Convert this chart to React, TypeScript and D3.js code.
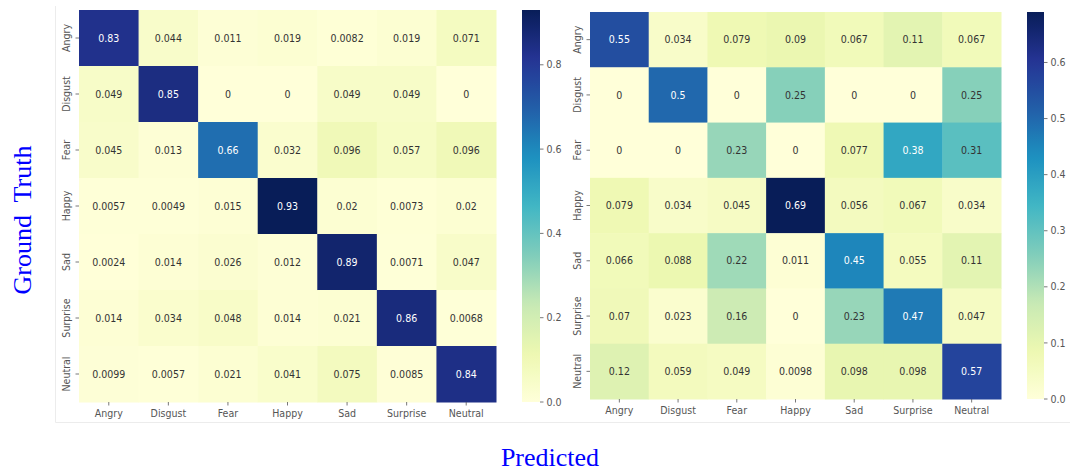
import React from "react";
import * as d3 from "d3";

const labels = ["Angry", "Disgust", "Fear", "Happy", "Sad", "Surprise", "Neutral"];

const leftMatrix: number[][] = [
  [0.83, 0.044, 0.011, 0.019, 0.0082, 0.019, 0.071],
  [0.049, 0.85, 0, 0, 0.049, 0.049, 0],
  [0.045, 0.013, 0.66, 0.032, 0.096, 0.057, 0.096],
  [0.0057, 0.0049, 0.015, 0.93, 0.02, 0.0073, 0.02],
  [0.0024, 0.014, 0.026, 0.012, 0.89, 0.0071, 0.047],
  [0.014, 0.034, 0.048, 0.014, 0.021, 0.86, 0.0068],
  [0.0099, 0.0057, 0.021, 0.041, 0.075, 0.0085, 0.84],
];

const rightMatrix: number[][] = [
  [0.55, 0.034, 0.079, 0.09, 0.067, 0.11, 0.067],
  [0, 0.5, 0, 0.25, 0, 0, 0.25],
  [0, 0, 0.23, 0, 0.077, 0.38, 0.31],
  [0.079, 0.034, 0.045, 0.69, 0.056, 0.067, 0.034],
  [0.066, 0.088, 0.22, 0.011, 0.45, 0.055, 0.11],
  [0.07, 0.023, 0.16, 0, 0.23, 0.47, 0.047],
  [0.12, 0.059, 0.049, 0.0098, 0.098, 0.098, 0.57],
];

const leftTicks = [0.0, 0.2, 0.4, 0.6, 0.8];
const rightTicks = [0.0, 0.1, 0.2, 0.3, 0.4, 0.5, 0.6];

const ylgnbu = ["#ffffd9", "#edf8b1", "#c7e9b4", "#7fcdbb", "#41b6c4", "#1d91c0", "#225ea8", "#253494", "#081d58"];

function makeColor(vmin: number, vmax: number) {
  const base = d3
    .scaleLinear<string>()
    .domain(d3.range(ylgnbu.length).map((i) => i / (ylgnbu.length - 1)))
    .range(ylgnbu)
    .interpolate(d3.interpolateRgb)
    .clamp(true);
  return (v: number) => base((v - vmin) / (vmax - vmin));
}

function lum(c: string) {
  const rgb = d3.rgb(c);
  const f = (x: number) => {
    const s = x / 255;
    return s <= 0.03928 ? s / 12.92 : Math.pow((s + 0.055) / 1.055, 2.4);
  };
  return 0.2126 * f(rgb.r) + 0.7152 * f(rgb.g) + 0.0722 * f(rgb.b);
}

function fmt(v: number) {
  if (v === 0) return "0";
  return String(+v.toPrecision(2));
}

const FONT = "DejaVu Sans, sans-serif";
const TICKCOL = "#555";
const FS = 9.5;

type PanelProps = {
  id: string;
  data: number[][];
  ticks: number[];
  x0: number;
  x1: number;
  y0: number;
  y1: number;
  cbX0: number;
  cbX1: number;
};

function Panel({ id, data, ticks, x0, x1, y0, y1, cbX0, cbX1 }: PanelProps) {
  const flat = data.flat();
  const vmin = d3.min(flat)!;
  const vmax = d3.max(flat)!;
  const color = makeColor(vmin, vmax);
  const xs = d3.scaleBand().domain(labels).range([x0, x1]);
  const ys = d3.scaleBand().domain(labels).range([y0, y1]);
  const cb = d3.scaleLinear().domain([vmin, vmax]).range([y1, y0]);
  const stops = d3.range(0, 1.0001, 0.02);
  return (
    <g>
      <defs>
        <linearGradient id={id} x1="0" y1="1" x2="0" y2="0">
          {stops.map((t) => (
            <stop key={t} offset={t} stopColor={color(vmin + t * (vmax - vmin))} />
          ))}
        </linearGradient>
      </defs>
      {data.map((row, i) =>
        row.map((v, j) => {
          const c = color(v);
          const tc = lum(c) > 0.408 ? "#333333" : "#ffffff";
          const cx = xs(labels[j])! + xs.bandwidth() / 2;
          const cy = ys(labels[i])! + ys.bandwidth() / 2;
          return (
            <g key={`${i}-${j}`}>
              <rect
                x={xs(labels[j])!}
                y={ys(labels[i])!}
                width={xs.bandwidth() + 0.5}
                height={ys.bandwidth() + 0.5}
                fill={c}
              />
              <text
                transform={`translate(${cx},${cy}) scale(1,1.1)`}
                textAnchor="middle"
                dominantBaseline="central"
                fontFamily={FONT}
                fontSize={FS}
                fill={tc}
              >
                {fmt(v)}
              </text>
            </g>
          );
        })
      )}
      {labels.map((l) => {
        const cx = xs(l)! + xs.bandwidth() / 2;
        return (
          <g key={"x" + l}>
            <line x1={cx} x2={cx} y1={y1} y2={y1 + 3.5} stroke={TICKCOL} strokeWidth={0.8} />
            <text
              transform={`translate(${cx},${y1 + 14.5}) scale(1,1.1)`}
              textAnchor="middle"
              fontFamily={FONT}
              fontSize={FS}
              fill={TICKCOL}
            >
              {l}
            </text>
          </g>
        );
      })}
      {labels.map((l) => {
        const cy = ys(l)! + ys.bandwidth() / 2;
        return (
          <g key={"y" + l}>
            <line x1={x0 - 3.5} x2={x0} y1={cy} y2={cy} stroke={TICKCOL} strokeWidth={0.8} />
            <text
              transform={`translate(${x0 - 9},${cy}) rotate(-90) scale(1,1.1)`}
              textAnchor="middle"
              fontFamily={FONT}
              fontSize={FS}
              fill={TICKCOL}
            >
              {l}
            </text>
          </g>
        );
      })}
      <rect x={cbX0} y={y0} width={cbX1 - cbX0} height={y1 - y0} fill={`url(#${id})`} />
      {ticks.map((t) => (
        <g key={"cb" + t}>
          <line x1={cbX1} x2={cbX1 + 3.5} y1={cb(t)} y2={cb(t)} stroke={TICKCOL} strokeWidth={0.8} />
          <text
            transform={`translate(${cbX1 + 6.5},${cb(t)}) scale(1,1.1)`}
            dominantBaseline="central"
            fontFamily={FONT}
            fontSize={FS}
            fill={TICKCOL}
          >
            {t.toFixed(1)}
          </text>
        </g>
      ))}
    </g>
  );
}

export default function App() {
  return (
    <svg
      width={1070}
      height={472}
      style={{ position: "absolute", left: 0, top: 0, background: "#fff" }}
    >
      <line x1={55.5} x2={55.5} y1={6} y2={422.5} stroke="#ececec" strokeWidth={1} />
      <line x1={55.5} x2={1070} y1={422.5} y2={422.5} stroke="#ececec" strokeWidth={1} />
      <Panel id="gradL" data={leftMatrix} ticks={leftTicks} x0={79} x1={496} y0={10} y1={402} cbX0={522} cbX1={540} />
      <Panel id="gradR" data={rightMatrix} ticks={rightTicks} x0={590} x1={1001} y0={12} y1={399} cbX0={1027} cbX1={1044} />
      <text
        transform="translate(31,220) rotate(-90)"
        textAnchor="middle"
        fontFamily="Liberation Serif, Times New Roman, serif"
        fontSize={26}
        fill="#0000ff"
        style={{ whiteSpace: "pre" }}
      >
        {"Ground  Truth"}
      </text>
      <text
        x={550}
        y={466}
        textAnchor="middle"
        fontFamily="Liberation Serif, Times New Roman, serif"
        fontSize={26}
        fill="#0000ff"
      >
        Predicted
      </text>
    </svg>
  );
}
